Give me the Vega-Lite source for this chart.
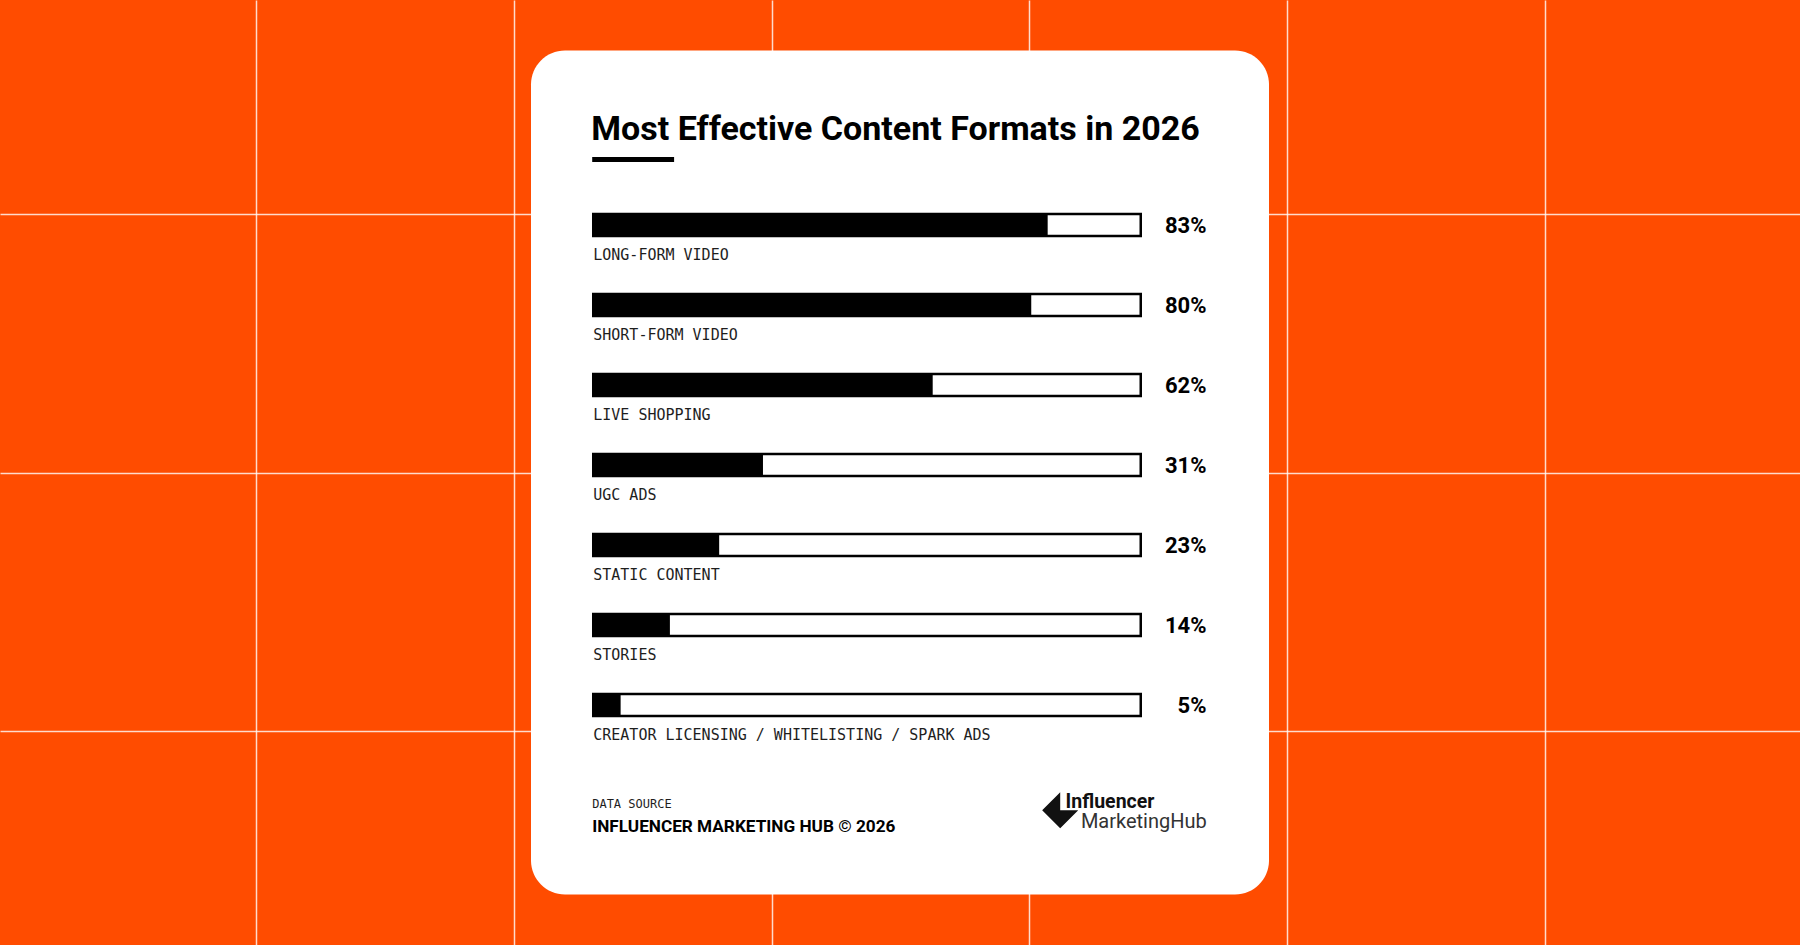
{
  "$schema": "https://vega.github.io/schema/vega-lite/v6.json",
  "width": 1800,
  "height": 945,
  "autosize": {"type": "fit", "contains": "padding"},
  "padding": 0,
  "background": "#FF4C00",
  "config": {
    "view": {"stroke": null},
    "axis": {"minExtent": 0, "maxExtent": 0}
  },
  "datasets": {
    "formats": [
      {"format": "LONG-FORM VIDEO", "share": 0.83},
      {"format": "SHORT-FORM VIDEO", "share": 0.80},
      {"format": "LIVE SHOPPING", "share": 0.62},
      {"format": "UGC ADS", "share": 0.31},
      {"format": "STATIC CONTENT", "share": 0.23},
      {"format": "STORIES", "share": 0.14},
      {"format": "CREATOR LICENSING / WHITELISTING / SPARK ADS", "share": 0.05}
    ]
  },
  "layer": [
    {
      "description": "Page frame: orange grid backdrop, white card, title, source note and logo, laid out in percent of the canvas",
      "data": {"values": [{}]},
      "layer": [
        {
          "mark": {"type": "rect", "fill": "white", "cornerRadius": 34},
          "encoding": {
            "x": {
              "datum": 29.5,
              "type": "quantitative",
              "scale": {"domain": [0, 100], "nice": false, "zero": false},
              "axis": {
                "values": [14.23, 28.55, 42.87, 57.19, 71.51, 85.83],
                "grid": true,
                "gridColor": "white",
                "gridOpacity": 0.8,
                "gridWidth": 1.5,
                "labels": false,
                "ticks": false,
                "domain": false,
                "title": null
              }
            },
            "x2": {"datum": 70.5},
            "y": {
              "datum": 5.35,
              "type": "quantitative",
              "scale": {"domain": [0, 100], "nice": false, "zero": false, "reverse": true},
              "axis": {
                "values": [22.6, 50, 77.4],
                "grid": true,
                "gridColor": "white",
                "gridOpacity": 0.8,
                "gridWidth": 1.5,
                "labels": false,
                "ticks": false,
                "domain": false,
                "title": null
              }
            },
            "y2": {"datum": 94.65}
          }
        },
        {
          "mark": {
            "type": "text",
            "text": "Most Effective Content Formats in 2026",
            "align": "left",
            "baseline": "alphabetic",
            "font": "Roboto",
            "fontWeight": "bold",
            "fontSize": 34,
            "color": "#000000"
          },
          "encoding": {
            "x": {"datum": 32.85, "type": "quantitative"},
            "y": {"datum": 14.85, "type": "quantitative"}
          }
        },
        {
          "mark": {"type": "rule", "color": "#000000", "strokeWidth": 5, "strokeCap": "butt"},
          "encoding": {
            "x": {"datum": 32.9, "type": "quantitative"},
            "x2": {"datum": 37.45},
            "y": {"datum": 16.88, "type": "quantitative"}
          }
        },
        {
          "mark": {
            "type": "text",
            "text": "DATA SOURCE",
            "align": "left",
            "baseline": "alphabetic",
            "font": "DejaVu Sans Mono",
            "fontSize": 12,
            "color": "#1e1e1e"
          },
          "encoding": {
            "x": {"datum": 32.9, "type": "quantitative"},
            "y": {"datum": 85.45, "type": "quantitative"}
          }
        },
        {
          "mark": {
            "type": "text",
            "text": "INFLUENCER MARKETING HUB © 2026",
            "align": "left",
            "baseline": "alphabetic",
            "font": "Roboto",
            "fontWeight": "bold",
            "fontSize": 17.2,
            "color": "#000000"
          },
          "encoding": {
            "x": {"datum": 32.9, "type": "quantitative"},
            "y": {"datum": 88.0, "type": "quantitative"}
          }
        },
        {
          "mark": {
            "type": "point",
            "shape": "M0,-1L-1,0L0,1L1,0L0,0Z",
            "filled": true,
            "color": "#111111",
            "opacity": 1,
            "size": 1300
          },
          "encoding": {
            "x": {"datum": 58.9, "type": "quantitative"},
            "y": {"datum": 85.75, "type": "quantitative"}
          }
        },
        {
          "mark": {
            "type": "text",
            "text": "Influencer",
            "align": "left",
            "baseline": "alphabetic",
            "font": "Roboto",
            "fontWeight": "bold",
            "fontSize": 19.5,
            "color": "#111111"
          },
          "encoding": {
            "x": {"datum": 59.2, "type": "quantitative"},
            "y": {"datum": 85.55, "type": "quantitative"}
          }
        },
        {
          "mark": {
            "type": "text",
            "text": "MarketingHub",
            "align": "left",
            "baseline": "alphabetic",
            "font": "Roboto",
            "fontSize": 20,
            "color": "#333333"
          },
          "encoding": {
            "x": {"datum": 60.05, "type": "quantitative"},
            "y": {"datum": 87.6, "type": "quantitative"}
          }
        }
      ]
    },
    {
      "description": "Share of respondents rating each content format effective",
      "data": {"name": "formats"},
      "encoding": {
        "y": {
          "field": "format",
          "type": "nominal",
          "sort": null,
          "scale": {"range": [185, 745], "paddingInner": 0, "paddingOuter": 0},
          "axis": null
        }
      },
      "layer": [
        {
          "mark": {
            "type": "bar",
            "fill": "white",
            "stroke": "black",
            "strokeWidth": 2.5,
            "height": {"band": 0.275}
          },
          "encoding": {
            "x": {
              "datum": 0,
              "type": "quantitative",
              "scale": {"domain": [-1.08356, 2.20411], "nice": false, "zero": false},
              "axis": null
            },
            "x2": {"datum": 1}
          }
        },
        {
          "mark": {"type": "bar", "fill": "black", "height": {"band": 0.275}},
          "encoding": {
            "x": {"field": "share", "type": "quantitative"},
            "x2": {"datum": 0}
          }
        },
        {
          "mark": {
            "type": "text",
            "align": "left",
            "baseline": "alphabetic",
            "dy": 35,
            "font": "DejaVu Sans Mono",
            "fontSize": 15,
            "color": "#1e1e1e"
          },
          "encoding": {
            "x": {"datum": 0, "type": "quantitative"},
            "text": {"field": "format", "type": "nominal"}
          }
        },
        {
          "mark": {
            "type": "text",
            "align": "right",
            "baseline": "alphabetic",
            "dy": 8,
            "font": "Roboto",
            "fontWeight": "bold",
            "fontSize": 22,
            "color": "#000000"
          },
          "encoding": {
            "x": {"datum": 1.12, "type": "quantitative"},
            "text": {"field": "share", "type": "quantitative", "format": ".0%"}
          }
        }
      ]
    }
  ],
  "resolve": {"scale": {"x": "independent", "y": "independent"}}
}
